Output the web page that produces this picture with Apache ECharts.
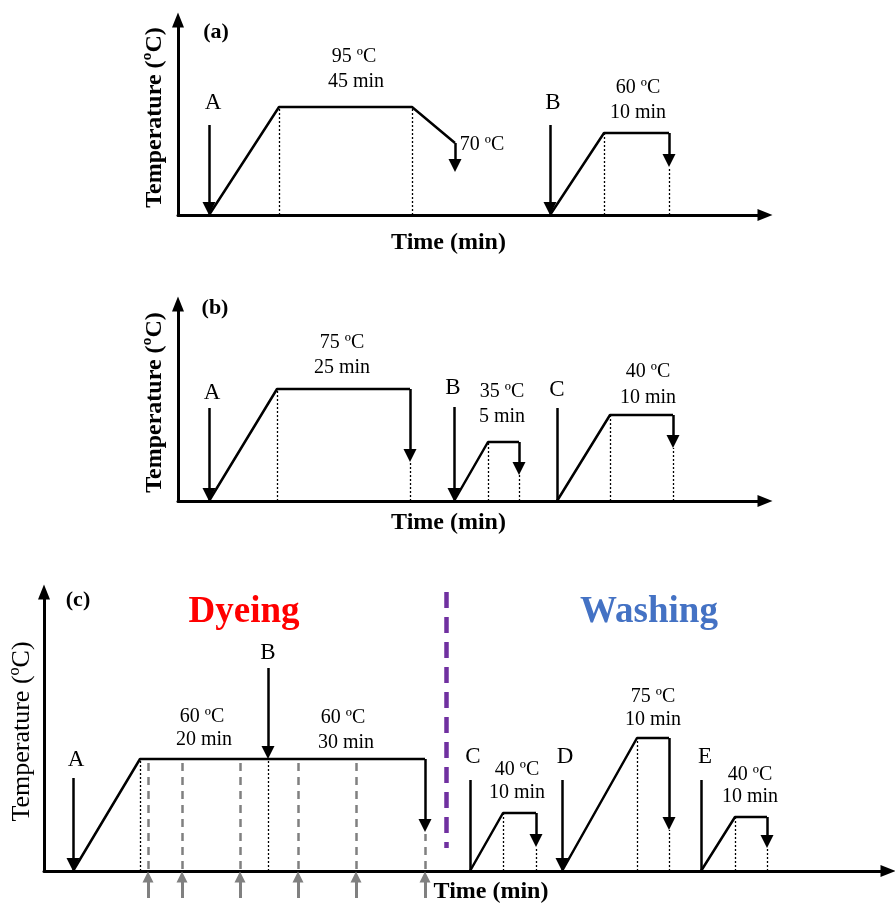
<!DOCTYPE html>
<html>
<head>
<meta charset="utf-8">
<script src="https://cdn.jsdelivr.net/npm/echarts@6/dist/echarts.min.js"></script>
<style>
  html, body { margin: 0; padding: 0; background: #fff; }
  #chart { width: 895px; height: 903px; }
</style>
</head>
<body>
<div id="chart"></div>
<script>
// schematic units: 1 unit of time / temperature = 1 px of the drawing
const FONT = "'Times New Roman', 'Liberation Serif', serif"
const HEAD = 13 // arrow head size

// ---- panel (a)
const aProfiles = [
  [[31, 0], [101, 108], [234, 108], [277, 72]],
  [[372, 0], [426, 82], [491, 82]],
]
const aArrows = [
  [[31, 90], [31, 0]],
  [[277, 72], [277, 43]],
  [[372, 90], [372, 0]],
  [[491, 82], [491, 48]],
]
const aGuides = [
  [[101, 0], [101, 108]],
  [[234, 0], [234, 108]],
  [[426, 0], [426, 82]],
  [[491, 0], [491, 48]],
]
const aSteps = [[35, 112, 'A'], [375, 112, 'B']]
const aNotes = [
  [176, 158, '95 ºC'], [178, 133, '45 min'],
  [304, 70, '70 ºC'],
  [460, 127, '60 ºC'], [460, 102, '10 min'],
]

// ---- panel (b)
const bProfiles = [
  [[31, 0], [99, 112], [232, 112]],
  [[276, 0], [310, 59], [341, 59]],
  [[379, 0], [432, 86], [495, 86]],
]
const bArrows = [
  [[31, 93], [31, 0]],
  [[232, 112], [232, 39]],
  [[276, 94], [276, 0]],
  [[341, 59], [341, 26]],
  [[495, 86], [495, 53]],
]
const bStems = [[[379, 93], [379, 0]]]
const bGuides = [
  [[99, 0], [99, 112]],
  [[232, 0], [232, 39]],
  [[310, 0], [310, 59]],
  [[341, 0], [341, 26]],
  [[432, 0], [432, 86]],
  [[495, 0], [495, 53]],
]
const bSteps = [[34, 108, 'A'], [275, 113, 'B'], [379, 111, 'C']]
const bNotes = [
  [164, 158, '75 ºC'], [164, 133, '25 min'],
  [324, 109, '35 ºC'], [324, 84, '5 min'],
  [470, 129, '40 ºC'], [470, 103, '10 min'],
]

// ---- panel (c)
const cProfiles = [
  [[29, 0], [96, 112], [381, 112]],
  [[426, 0], [459, 58], [492, 58]],
  [[518, 0], [593, 133], [625, 133]],
  [[657, 0], [691, 54], [723, 54]],
]
const cArrows = [
  [[29, 93], [29, 0]],
  [[224, 203], [224, 112]],
  [[381, 112], [381, 39]],
  [[492, 58], [492, 24]],
  [[518, 91], [518, 0]],
  [[625, 133], [625, 41]],
  [[723, 54], [723, 23]],
]
const cStems = [[[426, 91], [426, 0]], [[657, 91], [657, 0]]]
const cGuides = [
  [[96, 0], [96, 112]],
  [[224, 0], [224, 112]],
  [[459, 0], [459, 58]],
  [[492, 0], [492, 24]],
  [[593, 0], [593, 133]],
  [[625, 0], [625, 41]],
  [[691, 0], [691, 54]],
  [[723, 0], [723, 23]],
]
const cSamplings = [104, 138, 196, 254, 312, 381]
const cSamplingTop = [109, 109, 109, 109, 109, 37]
const cDivider = [[402, 279], [402, 23]]
const cSteps = [[32, 111, 'A'], [224, 218, 'B'], [429, 114, 'C'], [521, 114, 'D'], [661, 114, 'E']]
const cNotes = [
  [158, 154, '60 ºC'], [160, 131, '20 min'],
  [299, 153, '60 ºC'], [302, 128, '30 min'],
  [473, 101, '40 ºC'], [473, 78, '10 min'],
  [609, 174, '75 ºC'], [609, 151, '10 min'],
  [706, 96, '40 ºC'], [706, 74, '10 min'],
]
const cStages = [[200, 259, 'Dyeing', '#ff0000'], [605, 259, 'Washing', '#4472c4']]

const panelTags = [[38, 183, '(a)'], [37, 193, '(b)'], [34, 271, '(c)']]

// axis frames: left, bottom, end of x axis, end of y axis (px)
const frames = [
  { left: 178, bottom: 215, xEnd: 765, yEnd: 20, nameGap: 16, namePad: [0, 46, 0, 0], tBold: 'bold', tSize: 24, tGap: 11 },
  { left: 178, bottom: 501, xEnd: 765, yEnd: 304, nameGap: 10, namePad: [0, 46, 0, 0], tBold: 'bold', tSize: 24, tGap: 11 },
  { left: 44, bottom: 871, xEnd: 888, yEnd: 592, nameGap: 9, namePad: [0, 0, 0, 50], tBold: 'normal', tSize: 26, tGap: 9 },
]

const grid = [], xAxis = [], yAxis = []
frames.forEach((f, i) => {
  const w = f.xEnd - f.left
  const h = f.bottom - f.yEnd
  grid.push({ left: f.left, top: f.yEnd, width: w, height: h, outerBoundsMode: 'none', containLabel: false })
  const axisLine = { show: true, symbol: ['none', 'triangle'], symbolSize: [12, 15], lineStyle: { color: '#000', width: 3 } }
  xAxis.push({
    gridIndex: i, type: 'value', min: 0, max: w,
    axisLine, axisTick: { show: false }, axisLabel: { show: false }, splitLine: { show: false },
    name: 'Time (min)', nameLocation: 'middle', nameGap: f.nameGap,
    nameTextStyle: { fontFamily: FONT, fontSize: 24, fontWeight: 'bold', color: '#000', padding: f.namePad },
  })
  yAxis.push({
    gridIndex: i, type: 'value', min: 0, max: h,
    axisLine, axisTick: { show: false }, axisLabel: { show: false }, splitLine: { show: false },
    name: 'Temperature (ºC)', nameLocation: 'middle', nameGap: f.tGap, nameRotate: 90,
    nameTextStyle: { fontFamily: FONT, fontSize: f.tSize, fontWeight: f.tBold, color: '#000' },
  })
})

const series = []
const seg = (list) => list.map((c) => ({ coords: c }))
// pull the end back so the tip of the head lands on the end point
const arrowSeg = (list) => list.map(([p, q]) => {
  const dx = q[0] - p[0], dy = q[1] - p[1]
  const len = Math.hypot(dx, dy)
  const k = (HEAD / 2) / len
  return { coords: [p, [q[0] - dx * k, q[1] - dy * k]] }
})

function addPanel(i, profiles, arrows, stems, guides, steps, notes) {
  profiles.forEach((p) => series.push({
    type: 'line', xAxisIndex: i, yAxisIndex: i, data: p, symbol: 'none', silent: true,
    lineStyle: { color: '#000', width: 2.5 }, z: 4, animation: false,
  }))
  series.push({
    type: 'lines', coordinateSystem: 'cartesian2d', xAxisIndex: i, yAxisIndex: i, clip: false,
    data: seg(guides), lineStyle: { color: '#000', width: 1.3, type: [2, 2], opacity: 1 }, z: 2, animation: false,
  })
  series.push({
    type: 'lines', coordinateSystem: 'cartesian2d', xAxisIndex: i, yAxisIndex: i, clip: false,
    data: seg(stems), lineStyle: { color: '#000', width: 2.5, opacity: 1 }, z: 4, animation: false,
  })
  series.push({
    type: 'lines', coordinateSystem: 'cartesian2d', xAxisIndex: i, yAxisIndex: i, clip: false,
    data: arrowSeg(arrows), symbol: ['none', 'triangle'], symbolSize: HEAD,
    lineStyle: { color: '#000', width: 2.5, opacity: 1 }, z: 5, animation: false,
  })
  const text = (arr, size, weight) => series.push({
    type: 'scatter', xAxisIndex: i, yAxisIndex: i, clip: false, symbolSize: 1, silent: true,
    itemStyle: { color: 'rgba(0,0,0,0)', opacity: 1 }, z: 10, animation: false,
    data: arr.map((d) => ({ value: [d[0], d[1]], name: d[2], label: { color: d[3] || '#000' } })),
    label: {
      show: true, position: 'inside', formatter: (p) => p.name, opacity: 1,
      fontFamily: FONT, fontSize: size, fontWeight: weight, color: '#000',
    },
  })
  text(steps, 23, 'normal')
  text(notes, 20, 'normal')
  text([panelTags[i]], 22, 'bold')
  return text
}

addPanel(0, aProfiles, aArrows, [], aGuides, aSteps, aNotes)
addPanel(1, bProfiles, bArrows, bStems, bGuides, bSteps, bNotes)
const textC = addPanel(2, cProfiles, cArrows, cStems, cGuides, cSteps, cNotes)
textC(cStages, 37, 'bold')

// sampling points in panel (c): dashed guides and grey arrows under the axis
series.push({
  type: 'lines', coordinateSystem: 'cartesian2d', xAxisIndex: 2, yAxisIndex: 2, clip: false,
  data: cSamplings.map((x, k) => ({ coords: [[x, 2], [x, cSamplingTop[k]]] })),
  lineStyle: { color: '#808080', width: 2.5, type: [8, 6], opacity: 1 }, z: 3, animation: false,
})
series.push({
  type: 'lines', coordinateSystem: 'cartesian2d', xAxisIndex: 2, yAxisIndex: 2, clip: false,
  data: cSamplings.map((x) => ({ coords: [[x, -27], [x, -6]] })),
  symbol: ['none', 'triangle'], symbolSize: 11,
  lineStyle: { color: '#808080', width: 3, opacity: 1 }, z: 3, animation: false,
})
series.push({
  type: 'lines', coordinateSystem: 'cartesian2d', xAxisIndex: 2, yAxisIndex: 2, clip: false,
  data: [{ coords: cDivider }],
  lineStyle: { color: '#7030a0', width: 4.5, type: [16, 9], opacity: 1 }, z: 3, animation: false,
})

const chart = echarts.init(document.getElementById('chart'), null, { renderer: 'canvas' })
chart.setOption({
  backgroundColor: '#fff',
  animation: false,
  grid, xAxis, yAxis, series,
})
</script>
</body>
</html>
